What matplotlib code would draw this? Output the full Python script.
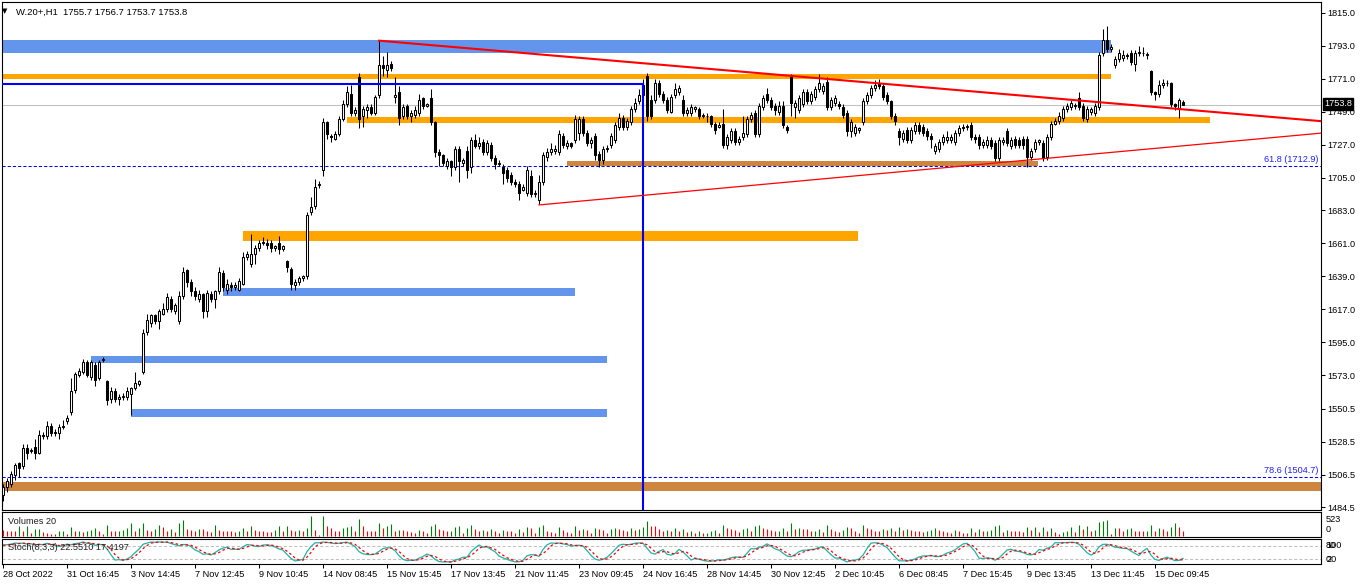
import numpy as np
import pandas as pd
import matplotlib
matplotlib.use('Agg')
import matplotlib.pyplot as plt
from matplotlib.patches import Rectangle

W, H = 1362, 585
FS = 6.6

# W.20+ H1 candles, one entry per bar
opens = [
    1493, 1498, 1500, 1506, 1514, 1512, 1524, 1522, 1525, 1521,
    1533, 1532, 1539, 1534, 1534, 1538, 1542, 1548, 1563, 1573,
    1575, 1582, 1572, 1580, 1571, 1583, 1569, 1557, 1562, 1557,
    1558, 1558, 1560, 1564, 1567, 1575, 1602, 1608, 1613, 1609,
    1614, 1617, 1624, 1616, 1609, 1626, 1643, 1635, 1629, 1624,
    1627, 1616, 1627, 1624, 1629, 1641, 1630, 1633, 1632, 1630,
    1634, 1652, 1647, 1654, 1658, 1661, 1661, 1661, 1658, 1661,
    1657, 1649, 1644, 1633, 1635, 1638, 1639, 1682, 1686, 1700,
    1710, 1742, 1733, 1731, 1734, 1744, 1754, 1761, 1748, 1772,
    1746, 1750, 1752, 1748, 1760, 1780, 1777, 1781, 1759, 1762,
    1746, 1753, 1746, 1747, 1748, 1758, 1753, 1758, 1742, 1722,
    1720, 1713, 1716, 1712, 1724, 1715, 1723, 1712, 1730, 1726,
    1729, 1722, 1727, 1718, 1714, 1712, 1710, 1707, 1702, 1701,
    1697, 1695, 1706, 1694, 1690, 1702, 1719, 1722, 1723, 1722,
    1733, 1726, 1728, 1730, 1735, 1744, 1735, 1728, 1733, 1721,
    1717, 1724, 1727, 1730, 1739, 1745, 1739, 1742, 1751, 1756,
    1760, 1773, 1757, 1757, 1768, 1761, 1757, 1749, 1760, 1762,
    1757, 1748, 1748, 1751, 1751, 1746, 1746, 1746, 1741, 1739,
    1741, 1727, 1730, 1736, 1729, 1732, 1734, 1744, 1748, 1734,
    1752, 1761, 1757, 1753, 1749, 1753, 1739, 1772, 1752, 1750,
    1754, 1762, 1756, 1759, 1764, 1763, 1769, 1752, 1755, 1754,
    1752, 1748, 1736, 1735, 1737, 1742, 1756, 1760, 1765, 1768,
    1766, 1760, 1756, 1746, 1736, 1731, 1737, 1730, 1736, 1740,
    1739, 1736, 1733, 1723, 1724, 1729, 1730, 1730, 1729, 1735,
    1738, 1739, 1740, 1732, 1732, 1727, 1727, 1730, 1728, 1718,
    1729, 1736, 1726, 1731, 1730, 1731, 1731, 1719, 1724, 1729,
    1728, 1719, 1732, 1741, 1743, 1745, 1751, 1752, 1753, 1758,
    1753, 1744, 1749, 1748, 1752, 1788, 1797, 1791, 1780, 1784,
    1785, 1787, 1788, 1781, 1789, 1788, 1787, 1776, 1762, 1761,
    1767, 1768, 1768, 1754, 1751, 1755.7,
]
highs = [
    1500, 1504, 1509, 1514, 1515, 1527, 1527, 1524, 1530, 1536,
    1535, 1542, 1541, 1537, 1540, 1543, 1546, 1571, 1575, 1578,
    1584, 1583, 1583, 1582, 1583, 1585, 1570, 1565, 1564, 1560,
    1561, 1565, 1565, 1575, 1570, 1604, 1614, 1614, 1614, 1617,
    1621, 1628, 1626, 1621, 1629, 1645, 1644, 1637, 1632, 1630,
    1628, 1630, 1629, 1630, 1645, 1643, 1637, 1635, 1635, 1638,
    1655, 1656, 1667, 1660, 1663, 1665, 1664, 1663, 1660, 1666,
    1660, 1650, 1645, 1637, 1639, 1640, 1682, 1692, 1704, 1703,
    1745, 1743, 1734, 1736, 1746, 1757, 1766, 1767, 1752, 1775,
    1753, 1754, 1754, 1760, 1796, 1786, 1789, 1783, 1772, 1766,
    1754, 1754, 1750, 1753, 1761, 1759, 1755, 1764, 1743, 1724,
    1721, 1718, 1717, 1726, 1726, 1718, 1726, 1732, 1734, 1732,
    1731, 1730, 1729, 1720, 1717, 1714, 1712, 1709, 1704, 1703,
    1701, 1713, 1710, 1697, 1707, 1722, 1725, 1728, 1727, 1737,
    1735, 1730, 1729, 1747, 1746, 1746, 1737, 1732, 1735, 1723,
    1726, 1727, 1735, 1742, 1748, 1747, 1745, 1753, 1758, 1764,
    1771, 1775, 1760, 1771, 1770, 1763, 1759, 1761, 1768, 1767,
    1760, 1752, 1754, 1753, 1752, 1748, 1748, 1747, 1742, 1742,
    1751, 1734, 1738, 1738, 1733, 1746, 1746, 1749, 1750, 1755,
    1760, 1765, 1759, 1755, 1756, 1756, 1740, 1774, 1757, 1760,
    1764, 1764, 1763, 1766, 1774, 1768, 1772, 1759, 1760, 1756,
    1754, 1750, 1744, 1741, 1739, 1758, 1762, 1767, 1770, 1771,
    1768, 1762, 1757, 1748, 1738, 1737, 1739, 1739, 1742, 1742,
    1741, 1738, 1735, 1728, 1731, 1734, 1736, 1734, 1737, 1740,
    1741, 1741, 1742, 1734, 1734, 1731, 1733, 1732, 1730, 1732,
    1732, 1738, 1732, 1733, 1732, 1733, 1733, 1725, 1731, 1731,
    1730, 1734, 1743, 1745, 1749, 1753, 1755, 1757, 1755, 1762,
    1755, 1753, 1752, 1755, 1789, 1804, 1806, 1794, 1786, 1791,
    1790, 1788, 1790, 1790, 1793, 1792, 1789, 1777, 1763, 1770,
    1771, 1770, 1769, 1755, 1758, 1756.7,
]
lows = [
    1489, 1495, 1498, 1503, 1505, 1510, 1517, 1521, 1517, 1520,
    1530, 1530, 1532, 1532, 1530, 1537, 1540, 1546, 1561, 1572,
    1574, 1572, 1570, 1566, 1570, 1582, 1553, 1554, 1555, 1553,
    1556, 1556, 1546, 1563, 1566, 1574, 1600, 1605, 1607, 1604,
    1613, 1615, 1615, 1614, 1607, 1624, 1632, 1626, 1623, 1622,
    1611, 1612, 1622, 1618, 1627, 1629, 1627, 1629, 1630, 1629,
    1633, 1650, 1645, 1647, 1656, 1660, 1657, 1655, 1656, 1654,
    1656, 1642, 1630, 1630, 1633, 1636, 1637, 1680, 1684, 1698,
    1706, 1731, 1729, 1730, 1733, 1743, 1752, 1746, 1746, 1738,
    1739, 1745, 1747, 1747, 1758, 1773, 1772, 1776, 1755, 1740,
    1744, 1744, 1742, 1745, 1746, 1751, 1752, 1740, 1719, 1713,
    1713, 1711, 1706, 1710, 1702, 1713, 1705, 1708, 1725, 1724,
    1720, 1720, 1716, 1711, 1713, 1701, 1702, 1700, 1699, 1690,
    1696, 1693, 1692, 1692, 1687, 1700, 1716, 1720, 1721, 1720,
    1725, 1724, 1725, 1728, 1730, 1733, 1726, 1725, 1717, 1712,
    1714, 1722, 1725, 1728, 1737, 1737, 1737, 1740, 1749, 1754,
    1758, 1743, 1744, 1755, 1759, 1755, 1748, 1748, 1758, 1760,
    1746, 1746, 1746, 1749, 1744, 1745, 1742, 1739, 1734, 1738,
    1725, 1724, 1728, 1727, 1727, 1730, 1732, 1742, 1732, 1732,
    1750, 1755, 1750, 1747, 1747, 1738, 1735, 1746, 1745, 1748,
    1752, 1754, 1754, 1757, 1762, 1761, 1750, 1750, 1753, 1751,
    1745, 1733, 1732, 1733, 1735, 1740, 1754, 1758, 1763, 1764,
    1757, 1754, 1744, 1740, 1727, 1729, 1728, 1728, 1734, 1734,
    1733, 1730, 1725, 1721, 1722, 1727, 1728, 1728, 1727, 1733,
    1736, 1737, 1730, 1728, 1724, 1725, 1725, 1724, 1716, 1716,
    1727, 1726, 1724, 1725, 1725, 1724, 1712, 1717, 1722, 1727,
    1716, 1717, 1730, 1740, 1741, 1743, 1749, 1750, 1751, 1750,
    1743, 1742, 1747, 1746, 1750, 1786, 1789, 1789, 1778, 1782,
    1783, 1784, 1780, 1776, 1786, 1786, 1784, 1760, 1757, 1759,
    1765, 1766, 1752, 1750, 1745, 1753.7,
]
closes = [
    1498, 1502, 1507, 1513, 1511, 1524, 1521, 1523, 1521, 1533,
    1532, 1539, 1534, 1535, 1538, 1539, 1544, 1562, 1574, 1576,
    1582, 1573, 1582, 1570, 1582, 1584, 1556, 1562, 1557, 1558,
    1559, 1562, 1564, 1568, 1569, 1601, 1610, 1613, 1609, 1616,
    1617, 1625, 1617, 1620, 1626, 1642, 1635, 1629, 1626, 1627,
    1616, 1628, 1624, 1629, 1642, 1632, 1634, 1632, 1633, 1636,
    1652, 1654, 1654, 1658, 1661, 1662, 1660, 1658, 1659, 1657,
    1659, 1645, 1634, 1635, 1638, 1639, 1680, 1685, 1699, 1701,
    1742, 1734, 1732, 1734, 1744, 1754, 1762, 1748, 1750, 1744,
    1751, 1752, 1748, 1759, 1780, 1778, 1780, 1778, 1760, 1745,
    1752, 1746, 1748, 1750, 1757, 1753, 1754, 1742, 1722, 1720,
    1715, 1716, 1712, 1724, 1716, 1717, 1710, 1730, 1726, 1728,
    1722, 1728, 1718, 1714, 1715, 1708, 1705, 1702, 1701, 1695,
    1699, 1710, 1694, 1695, 1702, 1720, 1722, 1724, 1724, 1734,
    1727, 1728, 1726, 1744, 1744, 1735, 1728, 1730, 1720, 1717,
    1724, 1725, 1733, 1740, 1745, 1739, 1743, 1751, 1755, 1760,
    1767, 1746, 1746, 1768, 1761, 1757, 1750, 1759, 1764, 1765,
    1748, 1750, 1752, 1752, 1746, 1746.5, 1746, 1741, 1737, 1740,
    1727, 1732, 1736, 1729, 1731, 1735, 1744, 1747, 1734, 1753,
    1758, 1757, 1752, 1750, 1753, 1740, 1737, 1755, 1755, 1758,
    1762, 1756, 1761, 1764, 1768, 1766, 1752, 1757, 1758, 1753,
    1747, 1736, 1742, 1739, 1738, 1756, 1760, 1765, 1767, 1766,
    1759, 1756, 1746, 1743, 1732, 1735, 1730, 1737, 1740, 1736,
    1735, 1733, 1731, 1726, 1729, 1732, 1732, 1732, 1735, 1738,
    1739, 1739.5, 1732, 1731, 1727, 1729, 1730, 1726, 1718, 1730,
    1730, 1728, 1730, 1727, 1727, 1727, 1719, 1723, 1729, 1730,
    1718, 1732, 1741, 1743, 1746, 1751, 1753, 1755, 1753.5, 1752,
    1745, 1751, 1751, 1753, 1787, 1797, 1791, 1792, 1784, 1788,
    1787, 1786, 1782, 1788, 1788, 1788.5, 1787, 1762, 1761, 1767,
    1768, 1768, 1754, 1753, 1757, 1753.8,
]
volumes = [
    156, 123, 123, 123, 262, 123, 262, 80, 180, 190,
    98, 74, 57, 57, 123, 130, 41, 238, 123, 139,
    98, 139, 145, 205, 139, 60, 279, 139, 123, 139,
    164, 205, 328, 139, 205, 328, 164, 123, 180, 287,
    238, 139, 180, 100, 344, 426, 180, 164, 139, 180,
    180, 139, 100, 279, 164, 139, 139, 123, 98, 123,
    205, 139, 262, 164, 139, 123, 98, 98, 164, 262,
    139, 262, 164, 123, 164, 139, 205, 523, 164, 20,
    523, 262, 205, 139, 123, 205, 238, 262, 120, 451,
    262, 139, 139, 123, 344, 200, 262, 320, 123, 150,
    150, 120, 110, 90, 160, 130, 80, 260, 320, 180,
    150, 120, 140, 230, 250, 90, 220, 280, 170, 120,
    150, 130, 180, 140, 90, 160, 140, 130, 80, 190,
    110, 230, 200, 90, 240, 300, 140, 110, 90, 230,
    160, 100, 80, 260, 150, 170, 160, 90, 220, 170,
    160, 90, 180, 220, 190, 150, 120, 200, 160, 190,
    230, 380, 260, 250, 170, 120, 160, 130, 200, 140,
    190, 110, 120, 80, 130, 70, 90, 140, 160, 80,
    280, 200, 170, 160, 100, 190, 220, 130, 260, 290,
    200, 180, 150, 130, 140, 210, 120, 330, 190, 200,
    190, 170, 120, 140, 180, 110, 300, 170, 130, 100,
    160, 240, 200, 130, 80, 280, 200, 170, 140, 120,
    180, 150, 210, 140, 230, 150, 170, 160, 130, 120,
    110, 130, 150, 210, 160, 120, 100, 90, 150, 130,
    90, 70, 200, 110, 170, 120, 130, 150, 260, 300,
    100, 164, 139, 123, 123, 98, 238, 156, 238, 98,
    238, 139, 197, 98, 57, 98, 123, 238, 100, 300,
    180, 262, 139, 156, 369, 402, 426, 41, 205, 205,
    139, 180, 205, 139, 139, 130, 139, 287, 139, 221,
    180, 139, 238, 328, 238, 120,
]

date_labels = [
    '28 Oct 2022', '31 Oct 16:45', '3 Nov 14:45', '7 Nov 12:45', '9 Nov 10:45',
    '14 Nov 08:45', '15 Nov 15:45', '17 Nov 13:45', '21 Nov 11:45', '23 Nov 09:45',
    '24 Nov 16:45', '28 Nov 14:45', '30 Nov 12:45', '2 Dec 10:45', '6 Dec 08:45',
    '7 Dec 15:45', '9 Dec 13:45', '13 Dec 11:45', '15 Dec 09:45',
]
price_ticks = [1815.0, 1793.0, 1771.0, 1749.0, 1727.0, 1705.0, 1683.0, 1661.0,
               1639.0, 1617.0, 1595.0, 1573.0, 1550.5, 1528.5, 1506.5, 1484.5]

# drawn objects: (first bar, last bar, low price, high price, colour)
zones = [
    (-5, 277, 1788.5, 1797.0, '#6495ED'),
    (-5, 277, 1771.0, 1774.2, '#FFA500'),
    (86, 301.75, 1741.7, 1745.3, '#FFA500'),
    (141, 258.75, 1713.0, 1716.1, '#CD853F'),
    (60, 213.75, 1662.4, 1669.5, '#FFA500'),
    (55, 143, 1626.0, 1631.0, '#6495ED'),
    (22, 151, 1581.2, 1585.7, '#6495ED'),
    (32, 151, 1545.2, 1550.3, '#6495ED'),
    (-5, 340, 1495.3, 1501.5, '#CD853F'),
]
trend_upper = [(94, 1796.5), (324.25, 1743.9)]
trend_lower = [(134, 1686.7), (324.25, 1733.4)]
blue_level = 1767.3
blue_vline_bar = 160
fib_levels = [(1712.9, '61.8 (1712.9)'), (1504.7, '78.6 (1504.7)')]
last_price = 1753.8


def px_axes(fig, left, top, right, bottom):
    # axes placed by pixel box of the 1362x585 picture
    return fig.add_axes([left / W, 1 - bottom / H, (right - left) / W, (bottom - top) / H])


def px_text(fig, x, y, s, **kw):
    return fig.text(x / W, 1 - y / H, s, **kw)


def frame(ax):
    for sp in ax.spines.values():
        sp.set_linewidth(0.8)
        sp.set_color('black')


def stochastic(k_period=8, d_period=3, slowing=3):
    c = pd.Series(closes)
    hh = pd.Series(highs).rolling(k_period, min_periods=1).max()
    ll = pd.Series(lows).rolling(k_period, min_periods=1).min()
    num = (c - ll).rolling(slowing, min_periods=1).sum()
    den = (hh - ll).rolling(slowing, min_periods=1).sum()
    k = 100 * num / den
    d = k.rolling(d_period, min_periods=1).mean()
    return k.values, d.values


def extend(p0, p1, x_end):
    slope = (p1[1] - p0[1]) / (p1[0] - p0[0])
    return [p0[0], x_end], [p0[1], p0[1] + slope * (x_end - p0[0])]


if __name__ == "__main__":
    plt.rcParams['font.family'] = ['Liberation Sans', 'DejaVu Sans']
    n = len(closes)
    assert len(opens) == len(highs) == len(lows) == len(volumes) == n
    idx = np.arange(n)
    o = np.array(opens, dtype=float)
    c = np.array(closes, dtype=float)
    xlim = (-0.25, 329.5)

    fig = plt.figure(figsize=(W / 100, H / 100), dpi=100)
    ax = px_axes(fig, 2, 2, 1321, 510)
    ax_vol = px_axes(fig, 2, 512, 1321, 537)
    ax_st = px_axes(fig, 2, 539, 1321, 564)

    # price panel
    for x0, x1, lo, hi, col in zones:
        ax.add_patch(Rectangle((x0, lo), x1 - x0, hi - lo, facecolor=col,
                               edgecolor='none', zorder=1))
    ax.axhline(last_price, color='#C0C0C0', linewidth=0.75, zorder=2)
    for level, label in fib_levels:
        ax.axhline(level, color='#0000FF', linewidth=0.75, linestyle=(0, (3, 2)), zorder=2)
        ax.text(328.8, level + 1.2, label, color='#2020FF', fontsize=FS,
                ha='right', va='bottom', zorder=5)

    ax.vlines(idx, lows, highs, color='black', linewidth=0.75, zorder=3)
    body_lo = np.minimum(o, c)
    body_h = np.maximum(np.abs(c - o), 0.3)
    fill = np.where(c >= o, 'white', 'black')
    ax.bar(idx, body_h, bottom=body_lo, width=0.5, color=fill,
           edgecolor='black', linewidth=0.75, zorder=3.5)

    ax.plot([-5, blue_vline_bar], [blue_level, blue_level], color='#0000FF', linewidth=1.5, zorder=4)
    ax.plot([blue_vline_bar, blue_vline_bar], [blue_level, 1470], color='#0000FF', linewidth=1.5, zorder=4)
    xs, ys = extend(trend_upper[0], trend_upper[1], 340)
    ax.plot(xs, ys, color='#FF0000', linewidth=1.5, zorder=4)
    xs, ys = extend(trend_lower[0], trend_lower[1], 340)
    ax.plot(xs, ys, color='#FF0000', linewidth=0.9, zorder=4)

    ax.set_xlim(*xlim)
    ax.set_ylim(1482.78, 1822.35)
    ax.set_xticks([])
    ax.yaxis.tick_right()
    ax.set_yticks(price_ticks)
    ax.set_yticklabels(['{:.1f}'.format(v) for v in price_ticks])
    ax.tick_params(axis='y', length=3, width=0.75, pad=1.5, labelsize=FS)
    frame(ax)

    px_text(fig, 2, 11, u'\u25BC', fontsize=5, family='DejaVu Sans', va='center')
    px_text(fig, 16, 12, 'W.20+,H1  1755.7 1756.7 1753.7 1753.8', fontsize=6.8, va='center')
    px_text(fig, 1324, 104, '{:.1f}'.format(last_price), fontsize=FS, color='white', va='center',
            bbox=dict(boxstyle='square,pad=0.15', facecolor='black', edgecolor='black'))

    # volumes: green when bigger than the bar before
    vol = np.array(volumes)
    vol_col = ['#FF0000'] + ['#008000' if vol[i] > vol[i - 1] else '#FF0000' for i in range(1, n)]
    ax_vol.vlines(idx, 0, vol, colors=vol_col, linewidth=0.8)
    ax_vol.set_xlim(*xlim)
    ax_vol.set_ylim(-26, 627)
    ax_vol.set_xticks([])
    ax_vol.set_yticks([])
    frame(ax_vol)
    px_text(fig, 8, 521, 'Volumes 20', fontsize=FS, va='center', color='#202020')
    px_text(fig, 1326, 519, '523', fontsize=FS, va='center')
    px_text(fig, 1326, 529, '0', fontsize=FS, va='center')

    # stochastic
    k, d = stochastic()
    ax_st.axhline(80, color='#C0C0C0', linewidth=0.75, linestyle=(0, (3, 2)))
    ax_st.axhline(20, color='#C0C0C0', linewidth=0.75, linestyle=(0, (3, 2)))
    ax_st.plot(idx, k, color='#20B2AA', linewidth=0.9)
    ax_st.plot(idx, d, color='#FF0000', linewidth=0.9, linestyle=(0, (2, 2)))
    ax_st.set_xlim(*xlim)
    ax_st.set_ylim(-0.7, 109.5)
    ax_st.set_yticks([])
    ax_st.set_xticks(np.arange(0, 16 * len(date_labels), 16))
    ax_st.set_xticklabels(date_labels, ha='left')
    ax_st.tick_params(axis='x', length=3, width=0.75, pad=1.5, labelsize=FS)
    frame(ax_st)
    px_text(fig, 8, 548, 'Stoch(8,3,3) 22.5510 17.4197', fontsize=FS, va='center', color='#202020')
    # the reference draws these level labels on top of each other
    px_text(fig, 1326, 546, '100', fontsize=FS, va='center')
    px_text(fig, 1326, 546, '80', fontsize=FS, va='center')
    px_text(fig, 1326, 559, '20', fontsize=FS, va='center')
    px_text(fig, 1326, 559, '0', fontsize=FS, va='center')

    fig.savefig('out.png', dpi=100)
    plt.close(fig)
